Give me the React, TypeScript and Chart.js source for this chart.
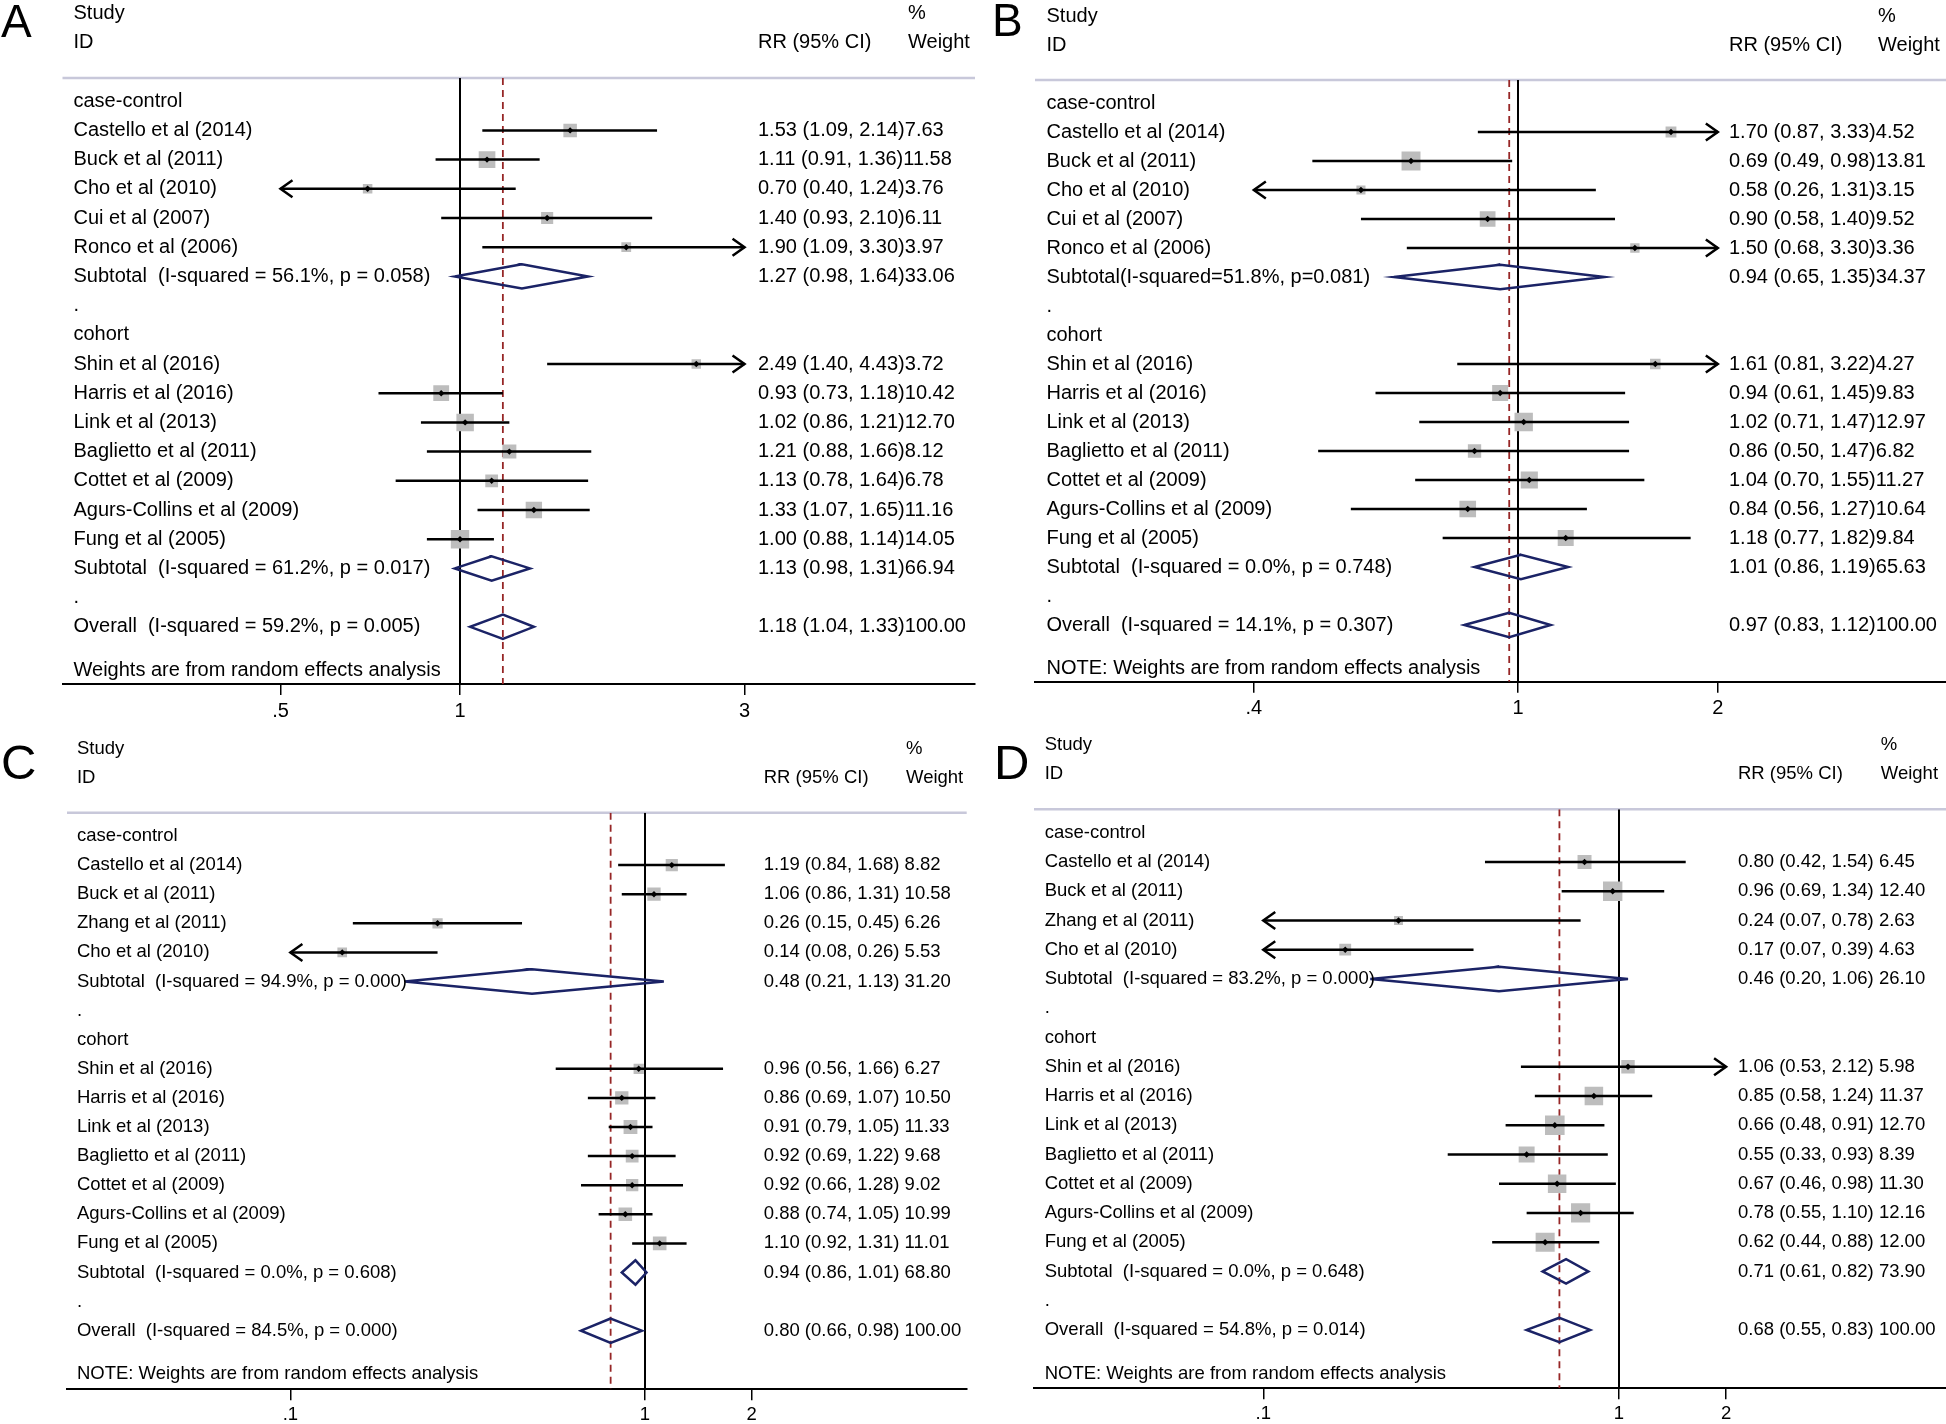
import React, { useEffect, useRef } from 'react';
import { Chart, registerables } from 'chart.js';

Chart.register(...registerables);

// ---------------- DATA ----------------
const HEAD_LEFT = ['Study', 'ID'];
const HEAD_RR = 'RR (95% CI)';
const HEAD_W = ['%', 'Weight'];

// Panel A
const A_LABELS = [
  'case-control', 'Castello et al (2014)', 'Buck et al (2011)', 'Cho et al (2010)', 'Cui et al (2007)',
  'Ronco et al (2006)', 'Subtotal  (I-squared = 56.1%, p = 0.058)', '.', 'cohort', 'Shin et al (2016)',
  'Harris et al (2016)', 'Link et al (2013)', 'Baglietto et al (2011)', 'Cottet et al (2009)',
  'Agurs-Collins et al (2009)', 'Fung et al (2005)', 'Subtotal  (I-squared = 61.2%, p = 0.017)', '.',
  'Overall  (I-squared = 59.2%, p = 0.005)',
];
const A_EST = [null, 1.53, 1.11, 0.70, 1.40, 1.90, 1.27, null, null, 2.49, 0.93, 1.02, 1.21, 1.13, 1.33, 1.00, 1.13, null, 1.18];
const A_LO = [null, 1.09, 0.91, 0.40, 0.93, 1.09, 0.98, null, null, 1.40, 0.73, 0.86, 0.88, 0.78, 1.07, 0.88, 0.98, null, 1.04];
const A_HI = [null, 2.14, 1.36, 1.24, 2.10, 3.30, 1.64, null, null, 4.43, 1.18, 1.21, 1.66, 1.64, 1.65, 1.14, 1.31, null, 1.33];
const A_WT = [null, 7.63, 11.58, 3.76, 6.11, 3.97, 33.06, null, null, 3.72, 10.42, 12.70, 8.12, 6.78, 11.16, 14.05, 66.94, null, 100.00];
const A_TICKS = [0.5, 1, 3];
const A_TICK_LABELS = ['.5', '1', '3'];
const A_NOTE = 'Weights are from random effects analysis';

// Panel B
const B_LABELS = [
  'case-control', 'Castello et al (2014)', 'Buck et al (2011)', 'Cho et al (2010)', 'Cui et al (2007)',
  'Ronco et al (2006)', 'Subtotal(I-squared=51.8%, p=0.081)', '.', 'cohort', 'Shin et al (2016)',
  'Harris et al (2016)', 'Link et al (2013)', 'Baglietto et al (2011)', 'Cottet et al (2009)',
  'Agurs-Collins et al (2009)', 'Fung et al (2005)', 'Subtotal  (I-squared = 0.0%, p = 0.748)', '.',
  'Overall  (I-squared = 14.1%, p = 0.307)',
];
const B_EST = [null, 1.70, 0.69, 0.58, 0.90, 1.50, 0.94, null, null, 1.61, 0.94, 1.02, 0.86, 1.04, 0.84, 1.18, 1.01, null, 0.97];
const B_LO = [null, 0.87, 0.49, 0.26, 0.58, 0.68, 0.65, null, null, 0.81, 0.61, 0.71, 0.50, 0.70, 0.56, 0.77, 0.86, null, 0.83];
const B_HI = [null, 3.33, 0.98, 1.31, 1.40, 3.30, 1.35, null, null, 3.22, 1.45, 1.47, 1.47, 1.55, 1.27, 1.82, 1.19, null, 1.12];
const B_WT = [null, 4.52, 13.81, 3.15, 9.52, 3.36, 34.37, null, null, 4.27, 9.83, 12.97, 6.82, 11.27, 10.64, 9.84, 65.63, null, 100.00];
const B_TICKS = [0.4, 1, 2];
const B_TICK_LABELS = ['.4', '1', '2'];
const B_NOTE = 'NOTE: Weights are from random effects analysis';

// Panel C
const C_LABELS = [
  'case-control', 'Castello et al (2014)', 'Buck et al (2011)', 'Zhang et al (2011)', 'Cho et al (2010)',
  'Subtotal  (I-squared = 94.9%, p = 0.000)', '.', 'cohort', 'Shin et al (2016)', 'Harris et al (2016)',
  'Link et al (2013)', 'Baglietto et al (2011)', 'Cottet et al (2009)', 'Agurs-Collins et al (2009)',
  'Fung et al (2005)', 'Subtotal  (I-squared = 0.0%, p = 0.608)', '.', 'Overall  (I-squared = 84.5%, p = 0.000)',
];
const C_EST = [null, 1.19, 1.06, 0.26, 0.14, 0.48, null, null, 0.96, 0.86, 0.91, 0.92, 0.92, 0.88, 1.10, 0.94, null, 0.80];
const C_LO = [null, 0.84, 0.86, 0.15, 0.08, 0.21, null, null, 0.56, 0.69, 0.79, 0.69, 0.66, 0.74, 0.92, 0.86, null, 0.66];
const C_HI = [null, 1.68, 1.31, 0.45, 0.26, 1.13, null, null, 1.66, 1.07, 1.05, 1.22, 1.28, 1.05, 1.31, 1.01, null, 0.98];
const C_WT = [null, 8.82, 10.58, 6.26, 5.53, 31.20, null, null, 6.27, 10.50, 11.33, 9.68, 9.02, 10.99, 11.01, 68.80, null, 100.00];
const C_TICKS = [0.1, 1, 2];
const C_TICK_LABELS = ['.1', '1', '2'];
const C_NOTE = 'NOTE: Weights are from random effects analysis';

// Panel D
const D_LABELS = [
  'case-control', 'Castello et al (2014)', 'Buck et al (2011)', 'Zhang et al (2011)', 'Cho et al (2010)',
  'Subtotal  (I-squared = 83.2%, p = 0.000)', '.', 'cohort', 'Shin et al (2016)', 'Harris et al (2016)',
  'Link et al (2013)', 'Baglietto et al (2011)', 'Cottet et al (2009)', 'Agurs-Collins et al (2009)',
  'Fung et al (2005)', 'Subtotal  (I-squared = 0.0%, p = 0.648)', '.', 'Overall  (I-squared = 54.8%, p = 0.014)',
];
const D_EST = [null, 0.80, 0.96, 0.24, 0.17, 0.46, null, null, 1.06, 0.85, 0.66, 0.55, 0.67, 0.78, 0.62, 0.71, null, 0.68];
const D_LO = [null, 0.42, 0.69, 0.07, 0.07, 0.20, null, null, 0.53, 0.58, 0.48, 0.33, 0.46, 0.55, 0.44, 0.61, null, 0.55];
const D_HI = [null, 1.54, 1.34, 0.78, 0.39, 1.06, null, null, 2.12, 1.24, 0.91, 0.93, 0.98, 1.10, 0.88, 0.82, null, 0.83];
const D_WT = [null, 6.45, 12.40, 2.63, 4.63, 26.10, null, null, 5.98, 11.37, 12.70, 8.39, 11.30, 12.16, 12.00, 73.90, null, 100.00];
const D_TICKS = [0.1, 1, 2];
const D_TICK_LABELS = ['.1', '1', '2'];
const D_NOTE = 'NOTE: Weights are from random effects analysis';

// ---------------- STYLE / LAYOUT ----------------
const FONT = '"Liberation Sans", Arial, Helvetica, sans-serif';
const NAVY = '#1b2366';
const BOX_GRAY = '#bdbdbd';
const RED = '#962626';
const SEP_COLOR = '#c8c8da';

type Layout = {
  letter: string; letterX: number; letterY: number; letterSize: number;
  canvas: { left: number; top: number; w: number; h: number };
  plot: { left: number; right: number; top: number; bottom: number };
  row0: number; step: number; xOne: number; k: number;
  textX: number; rrX: number; wX: number; font: number; box: number; sep: string;
};

const LAYOUT_A: Layout = {
  letter: 'A', letterX: 1, letterY: 36.7, letterSize: 46,
  canvas: { left: 0, top: 0, w: 980, h: 726 },
  plot: { left: 62.5, right: 975, top: 78, bottom: 684 },
  row0: 101.2, step: 29.2, xOne: 460, k: 259,
  textX: 73.5, rrX: 758, wX: 908, font: 20, box: 4.9, sep: '',
};
const LAYOUT_B: Layout = {
  letter: 'B', letterX: 992, letterY: 36, letterSize: 46,
  canvas: { left: 980, top: 0, w: 966, h: 724 },
  plot: { left: 1035, right: 1946, top: 80, bottom: 681.7 },
  row0: 103, step: 29.0, xOne: 1518, k: 288.3,
  textX: 1046.5, rrX: 1729, wX: 1878, font: 20, box: 5.1, sep: '',
};
const LAYOUT_C: Layout = {
  letter: 'C', letterX: 1, letterY: 779, letterSize: 49,
  canvas: { left: 0, top: 730, w: 980, h: 694 },
  plot: { left: 67, right: 966.7, top: 812.7, bottom: 1389.3 },
  row0: 836, step: 29.1, xOne: 645, k: 154,
  textX: 76.9, rrX: 763.7, wX: 906, font: 18.5, box: 4.1, sep: ' ',
};
const LAYOUT_D: Layout = {
  letter: 'D', letterX: 994, letterY: 778.5, letterSize: 49,
  canvas: { left: 980, top: 730, w: 966, h: 694 },
  plot: { left: 1034, right: 1946, top: 809.3, bottom: 1388.3 },
  row0: 832.7, step: 29.25, xOne: 1619, k: 154.5,
  textX: 1044.7, rrX: 1738, wX: 1880.8, font: 18.5, box: 5.5, sep: ' ',
};

const PANELS = [
  { layout: LAYOUT_A, labels: A_LABELS, est: A_EST, lo: A_LO, hi: A_HI, wt: A_WT, ticks: A_TICKS, tickLabels: A_TICK_LABELS, note: A_NOTE },
  { layout: LAYOUT_B, labels: B_LABELS, est: B_EST, lo: B_LO, hi: B_HI, wt: B_WT, ticks: B_TICKS, tickLabels: B_TICK_LABELS, note: B_NOTE },
  { layout: LAYOUT_C, labels: C_LABELS, est: C_EST, lo: C_LO, hi: C_HI, wt: C_WT, ticks: C_TICKS, tickLabels: C_TICK_LABELS, note: C_NOTE },
  { layout: LAYOUT_D, labels: D_LABELS, est: D_EST, lo: D_LO, hi: D_HI, wt: D_WT, ticks: D_TICKS, tickLabels: D_TICK_LABELS, note: D_NOTE },
];

function buildConfig(p: any) {
  const L: Layout = p.layout;
  const yMin = (L.plot.top - L.row0) / L.step;
  const yMax = (L.plot.bottom - L.row0) / L.step;
  const xMin = Math.exp((L.plot.left - L.xOne) / L.k);
  const xMax = Math.exp((L.plot.right - L.xOne) / L.k);
  const tMin = p.ticks[0];
  const tMax = p.ticks[p.ticks.length - 1];
  const axisH = L.canvas.h - (L.plot.bottom - L.canvas.top);

  const rows = p.labels.map((lab: string, i: number) => ({
    i, lab, est: p.est[i], lo: p.lo[i], hi: p.hi[i], wt: p.wt[i],
    pooled: /^(Subtotal|Overall)/.test(lab),
  }));
  const studies = rows.filter((r: any) => r.est != null && !r.pooled);
  const pooled = rows.filter((r: any) => r.est != null && r.pooled);
  const overall = rows.find((r: any) => r.lab.startsWith('Overall'));
  const dh = 12.2 / L.step;

  const datasets: any[] = [];
  datasets.push({
    label: 'no effect', data: [{ x: 1, y: yMin }, { x: 1, y: yMax }],
    borderColor: '#000', borderWidth: 2, pointRadius: 0, order: 10,
  });
  datasets.push({
    label: 'overall', data: [{ x: overall.est, y: yMin }, { x: overall.est, y: yMax }],
    borderColor: RED, borderWidth: 1.8, borderDash: [7, 5], pointRadius: 0, order: 9,
  });
  datasets.push({
    label: 'weights', data: studies.map((r: any) => ({ x: r.est, y: r.i })), showLine: false,
    pointStyle: 'rect', pointRadius: studies.map((r: any) => (L.box * Math.sqrt(r.wt)) / Math.SQRT2),
    pointBackgroundColor: BOX_GRAY, pointBorderWidth: 0, borderWidth: 0, order: 5,
  });
  studies.forEach((r: any) => {
    datasets.push({
      label: 'ci ' + r.lab,
      data: [{ x: Math.max(r.lo, tMin), y: r.i }, { x: Math.min(r.hi, tMax), y: r.i }],
      borderColor: '#000', borderWidth: 2.5, pointRadius: 0, order: 4,
    });
  });
  pooled.forEach((r: any) => {
    datasets.push({
      label: 'pooled ' + r.lab,
      data: [
        { x: r.lo, y: r.i }, { x: r.est, y: r.i - dh }, { x: r.hi, y: r.i },
        { x: r.est, y: r.i + dh }, { x: r.lo, y: r.i }, { x: r.est, y: r.i - dh },
      ],
      borderColor: NAVY, borderWidth: 2.5, pointRadius: 0, order: 3, borderJoinStyle: 'miter',
    });
  });
  datasets.push({
    label: 'estimates', data: studies.map((r: any) => ({ x: r.est, y: r.i })), showLine: false,
    pointStyle: 'rectRot', pointRadius: 3.2, pointBackgroundColor: '#000', pointBorderWidth: 0,
    borderWidth: 0, order: 1,
  });

  const ox = L.canvas.left;
  const fmt = (r: any) =>
    `${r.est.toFixed(2)} (${r.lo.toFixed(2)}, ${r.hi.toFixed(2)})${L.sep}${r.wt.toFixed(2)}`;

  const forestPlugin = {
    id: 'forestText',
    beforeDatasetsDraw(chart: any) {
      const { ctx, chartArea } = chart;
      ctx.save();
      ctx.strokeStyle = SEP_COLOR;
      ctx.lineWidth = 2.5;
      ctx.beginPath();
      ctx.moveTo(chartArea.left, chartArea.top);
      ctx.lineTo(chartArea.right, chartArea.top);
      ctx.stroke();
      ctx.restore();
    },
    afterDatasetsDraw(chart: any) {
      const { ctx } = chart;
      const xs = chart.scales.x;
      const ys = chart.scales.y;
      ctx.save();
      // arrows for truncated confidence intervals
      ctx.strokeStyle = '#000';
      ctx.lineWidth = 2.5;
      ctx.lineJoin = 'miter';
      studies.forEach((r: any) => {
        const py = ys.getPixelForValue(r.i);
        if (r.lo < tMin) {
          const px = xs.getPixelForValue(tMin);
          ctx.beginPath();
          ctx.moveTo(px + 12, py - 8.5);
          ctx.lineTo(px, py);
          ctx.lineTo(px + 12, py + 8.5);
          ctx.stroke();
        }
        if (r.hi > tMax) {
          const px = xs.getPixelForValue(tMax);
          ctx.beginPath();
          ctx.moveTo(px - 12, py - 8.5);
          ctx.lineTo(px, py);
          ctx.lineTo(px - 12, py + 8.5);
          ctx.stroke();
        }
      });
      // texts
      ctx.fillStyle = '#000';
      ctx.textBaseline = 'middle';
      ctx.textAlign = 'left';
      ctx.font = `${L.font}px ${FONT}`;
      ctx.fillText(HEAD_LEFT[0], L.textX - ox, ys.getPixelForValue(-3));
      ctx.fillText(HEAD_LEFT[1], L.textX - ox, ys.getPixelForValue(-2));
      ctx.fillText(HEAD_RR, L.rrX - ox, ys.getPixelForValue(-2));
      ctx.fillText(HEAD_W[0], L.wX - ox, ys.getPixelForValue(-3));
      ctx.fillText(HEAD_W[1], L.wX - ox, ys.getPixelForValue(-2));
      rows.forEach((r: any) => {
        const y = ys.getPixelForValue(r.i);
        ctx.fillText(r.lab, L.textX - ox, y);
        if (r.est != null) ctx.fillText(fmt(r), L.rrX - ox, y);
      });
      ctx.fillText(p.note, L.textX - ox, ys.getPixelForValue(rows.length - 1 + 1.5));
      // panel letter
      ctx.textBaseline = 'alphabetic';
      ctx.font = `${L.letterSize}px ${FONT}`;
      ctx.fillText(L.letter, L.letterX - ox, L.letterY - L.canvas.top);
      ctx.restore();
    },
  };

  return {
    type: 'line',
    data: { datasets },
    options: {
      animation: false,
      responsive: false,
      devicePixelRatio: 1,
      events: [],
      layout: {
        autoPadding: false,
        padding: {
          left: L.plot.left - L.canvas.left,
          right: L.canvas.left + L.canvas.w - L.plot.right,
          top: L.plot.top - L.canvas.top,
          bottom: 0,
        },
      },
      plugins: { legend: { display: false }, tooltip: { enabled: false } },
      scales: {
        x: {
          type: 'logarithmic',
          bounds: 'data',
          min: xMin,
          max: xMax,
          afterBuildTicks: (s: any) => {
            s.ticks = p.ticks.map((v: number) => ({ value: v }));
          },
          afterFit: (s: any) => {
            s.height = axisH;
          },
          ticks: {
            callback: (_v: any, i: number) => p.tickLabels[i],
            autoSkip: false,
            maxRotation: 0,
            minRotation: 0,
            padding: 4,
            color: '#000',
            font: { family: FONT, size: L.font },
          },
          grid: { display: true, drawOnChartArea: false, drawTicks: true, tickLength: 11, color: '#000', lineWidth: 1.5 },
          border: { display: true, color: '#000', width: 2 },
        },
        y: {
          type: 'linear',
          bounds: 'data',
          reverse: true,
          min: yMin,
          max: yMax,
          display: false,
        },
      },
    },
    plugins: [forestPlugin],
  };
}

function ForestPanel({ p }: { p: any }) {
  const ref = useRef<HTMLCanvasElement | null>(null);
  useEffect(() => {
    if (!ref.current) return;
    const chart = new Chart(ref.current, buildConfig(p) as any);
    return () => chart.destroy();
  }, [p]);
  const c = p.layout.canvas;
  return (
    <canvas
      ref={ref}
      width={c.w}
      height={c.h}
      style={{ position: 'absolute', left: c.left, top: c.top, width: c.w, height: c.h }}
    />
  );
}

export default function App() {
  return (
    <div style={{ position: 'absolute', left: 0, top: 0, width: 1946, height: 1424, background: '#fff', overflow: 'hidden' }}>
      {PANELS.map((p) => (
        <ForestPanel key={p.layout.letter} p={p} />
      ))}
    </div>
  );
}
